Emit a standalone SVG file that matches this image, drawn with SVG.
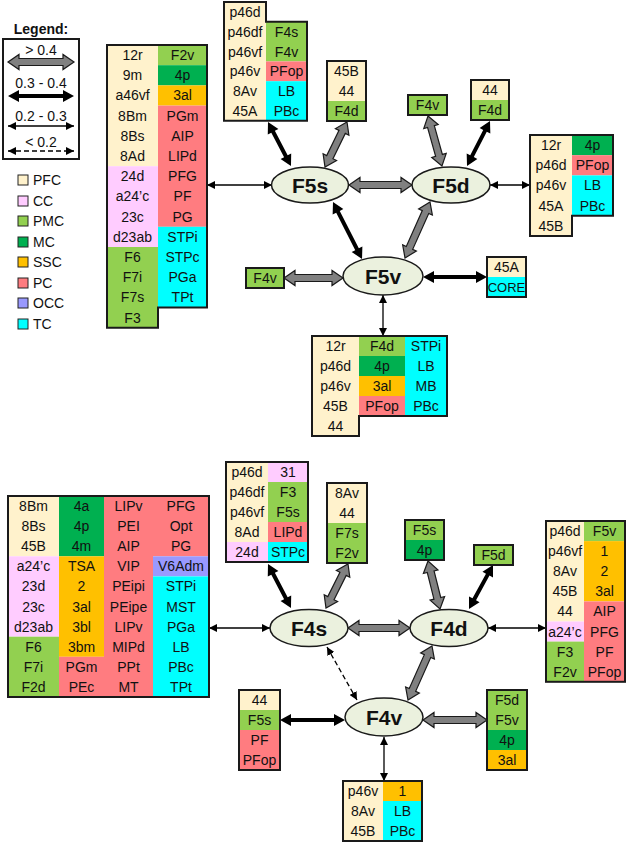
<svg xmlns="http://www.w3.org/2000/svg" width="630" height="843" viewBox="0 0 630 843">
<style>
.t{font-family:"Liberation Sans",Arial,sans-serif;font-size:14px;text-anchor:middle;fill:#111}
.lg{font-family:"Liberation Sans",Arial,sans-serif;font-size:14px;fill:#111}
.n{font-family:"Liberation Sans",Arial,sans-serif;font-size:21px;font-weight:bold;text-anchor:middle;fill:#111}
.ol{fill:none;stroke:#1a1a1a;stroke-width:2}
.pfc{fill:#FFF2CC}.cc{fill:#FFCCFF}.pmc{fill:#92D050}.mc{fill:#00B050}.ssc{fill:#FFC000}.pc{fill:#FF7C80}.occ{fill:#9999FF}.tc{fill:#00FFFF}
.el{fill:#EBF1DE;stroke:#1a1a1a;stroke-width:1.5}
.g{fill:#808080;stroke:#1a1a1a;stroke-width:1.2}
.b{fill:#000}
.thin{stroke:#000;stroke-width:1.3;fill:none;marker-start:url(#ah);marker-end:url(#ah)}
.dash{stroke-dasharray:5,3}
</style>
<defs>
<marker id="ah" markerUnits="userSpaceOnUse" markerWidth="9" markerHeight="8" refX="8" refY="4" orient="auto-start-reverse"><path d="M0,0 L8,4 L0,8 z" fill="#000"/></marker>
</defs>

<g id="legend">
<text x="41" y="34" class="lg" style="font-weight:bold;text-anchor:middle">Legend:</text>
<rect x="3" y="39" width="76" height="120" class="ol"/>
<text x="41" y="55" class="t">&gt; 0.4</text>
<polygon transform="translate(8,62)" class="g" points="0,0 11,-7.5 11,-3.5 55,-3.5 55,-7.5 66,0 55,7.5 55,3.5 11,3.5 11,7.5"/>
<text x="41" y="88" class="t">0.3 - 0.4</text>
<polygon transform="translate(8,96)" class="b" points="0,0 11,-6 11,-2 55,-2 55,-6 66,0 55,6 55,2 11,2 11,6"/>
<text x="41" y="121" class="t">0.2 - 0.3</text>
<line x1="8" y1="126" x2="74" y2="126" class="thin"/>
<text x="41" y="147" class="t">&lt; 0.2</text>
<line x1="8" y1="151" x2="74" y2="151" class="thin dash"/>
<rect x="18" y="175" width="10" height="10" class="pfc" stroke="#222"/><text x="33" y="185" class="lg">PFC</text>
<rect x="18" y="196" width="10" height="10" class="cc" stroke="#222"/><text x="33" y="206" class="lg">CC</text>
<rect x="18" y="216" width="10" height="10" class="pmc" stroke="#222"/><text x="33" y="226" class="lg">PMC</text>
<rect x="18" y="237" width="10" height="10" class="mc" stroke="#222"/><text x="33" y="247" class="lg">MC</text>
<rect x="18" y="257" width="10" height="10" class="ssc" stroke="#222"/><text x="33" y="267" class="lg">SSC</text>
<rect x="18" y="278" width="10" height="10" class="pc" stroke="#222"/><text x="33" y="288" class="lg">PC</text>
<rect x="18" y="298" width="10" height="10" class="occ" stroke="#222"/><text x="33" y="308" class="lg">OCC</text>
<rect x="18" y="319" width="10" height="10" class="tc" stroke="#222"/><text x="33" y="329" class="lg">TC</text>
</g>

<g id="connectors">
<line x1="207" y1="185" x2="272" y2="185" class="thin"/>
<line x1="490" y1="185" x2="530" y2="185" class="thin"/>
<line x1="383" y1="295" x2="383" y2="336" class="thin"/>
<polygon transform="translate(268,122) rotate(62.4)" class="b" points="0,0 11,-6 11,-2 38.6,-2 38.6,-6 49.6,0 38.6,6 38.6,2 11,2 11,6"/>
<polygon transform="translate(347,122) rotate(116.05)" class="g" points="0,0 11,-7.5 11,-3.5 39.1,-3.5 39.1,-7.5 50.1,0 39.1,7.5 39.1,3.5 11,3.5 11,7.5"/>
<polygon transform="translate(428,116) rotate(74.4)" class="g" points="0,0 11,-7.5 11,-3.5 40.9,-3.5 40.9,-7.5 51.9,0 40.9,7.5 40.9,3.5 11,3.5 11,7.5"/>
<polygon transform="translate(490,121) rotate(117.07)" class="b" points="0,0 11,-6 11,-2 39.5,-2 39.5,-6 50.5,0 39.5,6 39.5,2 11,2 11,6"/>
<polygon transform="translate(333,202) rotate(63.03)" class="b" points="0,0 11,-6 11,-2 53,-2 53,-6 64,0 53,6 53,2 11,2 11,6"/>
<polygon transform="translate(430,202) rotate(114.06)" class="g" points="0,0 11,-7.5 11,-3.5 50.3,-3.5 50.3,-7.5 61.3,0 50.3,7.5 50.3,3.5 11,3.5 11,7.5"/>
<polygon transform="translate(349,185)" class="g" points="0,0 11,-7.5 11,-3.5 52,-3.5 52,-7.5 63,0 52,7.5 52,3.5 11,3.5 11,7.5"/>
<polygon transform="translate(284,278)" class="g" points="0,0 11,-7.5 11,-3.5 48,-3.5 48,-7.5 59,0 48,7.5 48,3.5 11,3.5 11,7.5"/>
<polygon transform="translate(423,277)" class="b" points="0,0 11,-6 11,-2 53,-2 53,-6 64,0 53,6 53,2 11,2 11,6"/>

<line x1="209" y1="628" x2="270" y2="628" class="thin"/>
<line x1="488" y1="628" x2="546" y2="628" class="thin"/>
<line x1="384" y1="737" x2="384" y2="781" class="thin"/>
<line x1="327" y1="647" x2="357" y2="700" class="thin dash"/>
<polygon transform="translate(268,564) rotate(62.4)" class="b" points="0,0 11,-6 11,-2 38.6,-2 38.6,-6 49.6,0 38.6,6 38.6,2 11,2 11,6"/>
<polygon transform="translate(348,564) rotate(116.57)" class="g" points="0,0 11,-7.5 11,-3.5 38.2,-3.5 38.2,-7.5 49.2,0 38.2,7.5 38.2,3.5 11,3.5 11,7.5"/>
<polygon transform="translate(428,561) rotate(75.96)" class="g" points="0,0 11,-7.5 11,-3.5 38.5,-3.5 38.5,-7.5 49.5,0 38.5,7.5 38.5,3.5 11,3.5 11,7.5"/>
<polygon transform="translate(493,565) rotate(118.61)" class="b" points="0,0 11,-6 11,-2 39.1,-2 39.1,-6 50.1,0 39.1,6 39.1,2 11,2 11,6"/>
<polygon transform="translate(432,646) rotate(113.96)" class="g" points="0,0 11,-7.5 11,-3.5 48.1,-3.5 48.1,-7.5 59.1,0 48.1,7.5 48.1,3.5 11,3.5 11,7.5"/>
<polygon transform="translate(348,628)" class="g" points="0,0 11,-7.5 11,-3.5 51,-3.5 51,-7.5 62,0 51,7.5 51,3.5 11,3.5 11,7.5"/>
<polygon transform="translate(280,720)" class="b" points="0,0 11,-6 11,-2 54,-2 54,-6 65,0 54,6 54,2 11,2 11,6"/>
<polygon transform="translate(423,720)" class="g" points="0,0 11,-7.5 11,-3.5 53,-3.5 53,-7.5 64,0 53,7.5 53,3.5 11,3.5 11,7.5"/>
</g>

<g id="F5s"><ellipse cx="310" cy="185" rx="38.5" ry="18" class="el"/><text x="310" y="192.5" class="n">F5s</text></g>
<g id="F5d"><ellipse cx="451" cy="185" rx="39" ry="18" class="el"/><text x="451" y="192.5" class="n">F5d</text></g>
<g id="F5v"><ellipse cx="383" cy="276" rx="40" ry="19" class="el"/><text x="383" y="283.5" class="n">F5v</text></g>
<g id="F4s"><ellipse cx="309" cy="628" rx="39" ry="18.5" class="el"/><text x="309" y="635.5" class="n">F4s</text></g>
<g id="F4d"><ellipse cx="449" cy="628" rx="39" ry="18.5" class="el"/><text x="449" y="635.5" class="n">F4d</text></g>
<g id="F4v"><ellipse cx="384" cy="717" rx="39" ry="19" class="el"/><text x="384" y="724.5" class="n">F4v</text></g>

<g id="t-f5s-left">
<rect x="107" y="45" width="51" height="121.2" class="pfc"/>
<rect x="107" y="166.2" width="51" height="80.8" class="cc"/>
<rect x="107" y="247" width="51" height="80.8" class="pmc"/>
<rect x="158" y="45" width="49" height="20.2" class="pmc"/>
<rect x="158" y="65.2" width="49" height="20.2" class="mc"/>
<rect x="158" y="85.4" width="49" height="20.2" class="ssc"/>
<rect x="158" y="105.6" width="49" height="121.2" class="pc"/>
<rect x="158" y="226.8" width="49" height="80.8" class="tc"/>
<polygon points="107,45 207,45 207,307.6 158,307.6 158,327.8 107,327.8" class="ol"/>
<text x="132.5" y="60" class="t">12r</text><text x="132.5" y="80.2" class="t">9m</text><text x="132.5" y="100.4" class="t">a46vf</text><text x="132.5" y="120.6" class="t">8Bm</text><text x="132.5" y="140.8" class="t">8Bs</text><text x="132.5" y="161" class="t">8Ad</text><text x="132.5" y="181.2" class="t">24d</text><text x="132.5" y="201.4" class="t">a24’c</text><text x="132.5" y="221.6" class="t">23c</text><text x="132.5" y="241.8" class="t">d23ab</text><text x="132.5" y="262" class="t">F6</text><text x="132.5" y="282.2" class="t">F7i</text><text x="132.5" y="302.4" class="t">F7s</text><text x="132.5" y="322.6" class="t">F3</text>
<text x="182.5" y="60" class="t">F2v</text><text x="182.5" y="80.2" class="t">4p</text><text x="182.5" y="100.4" class="t">3al</text><text x="182.5" y="120.6" class="t">PGm</text><text x="182.5" y="140.8" class="t">AIP</text><text x="182.5" y="161" class="t">LIPd</text><text x="182.5" y="181.2" class="t">PFG</text><text x="182.5" y="201.4" class="t">PF</text><text x="182.5" y="221.6" class="t">PG</text><text x="182.5" y="241.8" class="t">STPi</text><text x="182.5" y="262" class="t">STPc</text><text x="182.5" y="282.2" class="t">PGa</text><text x="182.5" y="302.4" class="t">TPt</text>
</g>

<g id="t-f5s-top1">
<rect x="224" y="2" width="42" height="118.8" class="pfc"/>
<rect x="266" y="21.8" width="41" height="39.6" class="pmc"/>
<rect x="266" y="61.4" width="41" height="19.8" class="pc"/>
<rect x="266" y="81.2" width="41" height="39.6" class="tc"/>
<polygon points="224,2 266,2 266,21.8 307,21.8 307,120.8 224,120.8" class="ol"/>
<text x="245" y="17" class="t">p46d</text><text x="245" y="36.8" class="t">p46df</text><text x="245" y="56.6" class="t">p46vf</text><text x="245" y="76.4" class="t">p46v</text><text x="245" y="96.2" class="t">8Av</text><text x="245" y="116" class="t">45A</text>
<text x="286.5" y="36.8" class="t">F4s</text><text x="286.5" y="56.6" class="t">F4v</text><text x="286.5" y="76.4" class="t">PFop</text><text x="286.5" y="96.2" class="t">LB</text><text x="286.5" y="116" class="t">PBc</text>
</g>

<g id="t-f5s-top2">
<rect x="327" y="61" width="39" height="40" class="pfc"/>
<rect x="327" y="101" width="39" height="20" class="pmc"/>
<rect x="327" y="61" width="39" height="60" class="ol"/>
<text x="346.5" y="76" class="t">45B</text><text x="346.5" y="96" class="t">44</text><text x="346.5" y="116" class="t">F4d</text>
</g>

<g id="t-f5d-top1">
<rect x="408" y="95" width="39" height="20" class="pmc"/>
<rect x="408" y="95" width="39" height="20" class="ol"/>
<text x="427.5" y="110" class="t">F4v</text>
</g>

<g id="t-f5d-top2">
<rect x="471" y="80" width="38" height="20" class="pfc"/>
<rect x="471" y="100" width="38" height="20" class="pmc"/>
<rect x="471" y="80" width="38" height="40" class="ol"/>
<text x="490" y="95" class="t">44</text><text x="490" y="115" class="t">F4d</text>
</g>

<g id="t-f5d-right">
<rect x="530" y="135" width="42" height="101" class="pfc"/>
<rect x="572" y="135" width="41" height="20.2" class="mc"/>
<rect x="572" y="155.2" width="41" height="20.2" class="pc"/>
<rect x="572" y="175.4" width="41" height="40.4" class="tc"/>
<polygon points="530,135 613,135 613,215.8 572,215.8 572,236 530,236" class="ol"/>
<text x="551" y="150" class="t">12r</text><text x="551" y="170.2" class="t">p46d</text><text x="551" y="190.4" class="t">p46v</text><text x="551" y="210.6" class="t">45A</text><text x="551" y="230.8" class="t">45B</text>
<text x="592.5" y="150" class="t">4p</text><text x="592.5" y="170.2" class="t">PFop</text><text x="592.5" y="190.4" class="t">LB</text><text x="592.5" y="210.6" class="t">PBc</text>
</g>

<g id="t-f5v-left">
<rect x="246" y="268" width="38" height="20" class="pmc"/>
<rect x="246" y="268" width="38" height="20" class="ol"/>
<text x="265" y="283" class="t">F4v</text>
</g>

<g id="t-f5v-right">
<rect x="487" y="257" width="39" height="20" class="pfc"/>
<rect x="487" y="277" width="39" height="20" class="tc"/>
<rect x="487" y="257" width="39" height="40" class="ol"/>
<text x="506.5" y="272" class="t">45A</text><text x="506.5" y="292" class="t" style="font-size:13px">CORE</text>
</g>

<g id="t-f5v-bottom">
<rect x="312" y="336" width="47" height="100" class="pfc"/>
<rect x="359" y="336" width="46" height="20" class="pmc"/>
<rect x="359" y="356" width="46" height="20" class="mc"/>
<rect x="359" y="376" width="46" height="20" class="ssc"/>
<rect x="359" y="396" width="46" height="20" class="pc"/>
<rect x="405" y="336" width="42" height="80" class="tc"/>
<polygon points="312,336 447,336 447,416 359,416 359,436 312,436" class="ol"/>
<text x="335.5" y="351" class="t">12r</text><text x="335.5" y="371" class="t">p46d</text><text x="335.5" y="391" class="t">p46v</text><text x="335.5" y="411" class="t">45B</text><text x="335.5" y="431" class="t">44</text>
<text x="382" y="351" class="t">F4d</text><text x="382" y="371" class="t">4p</text><text x="382" y="391" class="t">3al</text><text x="382" y="411" class="t">PFop</text>
<text x="426" y="351" class="t">STPi</text><text x="426" y="371" class="t">LB</text><text x="426" y="391" class="t">MB</text><text x="426" y="411" class="t">PBc</text>
</g>

<g id="t-f4s-left">
<rect x="8" y="496" width="51" height="60.3" class="pfc"/>
<rect x="8" y="556.3" width="51" height="80.4" class="cc"/>
<rect x="8" y="636.7" width="51" height="60.3" class="pmc"/>
<rect x="59" y="496" width="45" height="60.3" class="mc"/>
<rect x="59" y="556.3" width="45" height="100.5" class="ssc"/>
<rect x="59" y="656.8" width="45" height="40.2" class="pc"/>
<rect x="104" y="496" width="49" height="201" class="pc"/>
<rect x="153" y="496" width="56" height="60.3" class="pc"/>
<rect x="153" y="556.3" width="56" height="20.1" class="occ"/>
<rect x="153" y="576.4" width="56" height="120.6" class="tc"/>
<rect x="8" y="496" width="201" height="201" class="ol"/>
<text x="33.5" y="511" class="t">8Bm</text><text x="33.5" y="531.1" class="t">8Bs</text><text x="33.5" y="551.2" class="t">45B</text><text x="33.5" y="571.3" class="t">a24’c</text><text x="33.5" y="591.4" class="t">23d</text><text x="33.5" y="611.5" class="t">23c</text><text x="33.5" y="631.6" class="t">d23ab</text><text x="33.5" y="651.7" class="t">F6</text><text x="33.5" y="671.8" class="t">F7i</text><text x="33.5" y="691.9" class="t">F2d</text>
<text x="81.5" y="511" class="t">4a</text><text x="81.5" y="531.1" class="t">4p</text><text x="81.5" y="551.2" class="t">4m</text><text x="81.5" y="571.3" class="t">TSA</text><text x="81.5" y="591.4" class="t">2</text><text x="81.5" y="611.5" class="t">3al</text><text x="81.5" y="631.6" class="t">3bl</text><text x="81.5" y="651.7" class="t">3bm</text><text x="81.5" y="671.8" class="t">PGm</text><text x="81.5" y="691.9" class="t">PEc</text>
<text x="128.5" y="511" class="t">LIPv</text><text x="128.5" y="531.1" class="t">PEI</text><text x="128.5" y="551.2" class="t">AIP</text><text x="128.5" y="571.3" class="t">VIP</text><text x="128.5" y="591.4" class="t">PEipi</text><text x="128.5" y="611.5" class="t">PEipe</text><text x="128.5" y="631.6" class="t">LIPv</text><text x="128.5" y="651.7" class="t">MIPd</text><text x="128.5" y="671.8" class="t">PPt</text><text x="128.5" y="691.9" class="t">MT</text>
<text x="181" y="511" class="t">PFG</text><text x="181" y="531.1" class="t">Opt</text><text x="181" y="551.2" class="t">PG</text><text x="181" y="571.3" class="t">V6Adm</text><text x="181" y="591.4" class="t">STPi</text><text x="181" y="611.5" class="t">MST</text><text x="181" y="631.6" class="t">PGa</text><text x="181" y="651.7" class="t">LB</text><text x="181" y="671.8" class="t">PBc</text><text x="181" y="691.9" class="t">TPt</text>
</g>

<g id="t-f4s-top1">
<rect x="226" y="462" width="42" height="80" class="pfc"/>
<rect x="226" y="542" width="42" height="20" class="cc"/>
<rect x="268" y="462" width="40" height="20" class="cc"/>
<rect x="268" y="482" width="40" height="40" class="pmc"/>
<rect x="268" y="522" width="40" height="20" class="pc"/>
<rect x="268" y="542" width="40" height="20" class="tc"/>
<rect x="226" y="462" width="82" height="100" class="ol"/>
<text x="247" y="477" class="t">p46d</text><text x="247" y="497" class="t">p46df</text><text x="247" y="517" class="t">p46vf</text><text x="247" y="537" class="t">8Ad</text><text x="247" y="557" class="t">24d</text>
<text x="288" y="477" class="t">31</text><text x="288" y="497" class="t">F3</text><text x="288" y="517" class="t">F5s</text><text x="288" y="537" class="t">LIPd</text><text x="288" y="557" class="t">STPc</text>
</g>

<g id="t-f4s-top2">
<rect x="327" y="483" width="40" height="40" class="pfc"/>
<rect x="327" y="523" width="40" height="40" class="pmc"/>
<rect x="327" y="483" width="40" height="80" class="ol"/>
<text x="347" y="498" class="t">8Av</text><text x="347" y="518" class="t">44</text><text x="347" y="538" class="t">F7s</text><text x="347" y="558" class="t">F2v</text>
</g>

<g id="t-f4d-top1">
<rect x="405" y="520" width="39" height="20" class="pmc"/>
<rect x="405" y="540" width="39" height="20" class="mc"/>
<rect x="405" y="520" width="39" height="40" class="ol"/>
<text x="424.5" y="535" class="t">F5s</text><text x="424.5" y="555" class="t">4p</text>
</g>

<g id="t-f4d-top2">
<rect x="474" y="545" width="39" height="20" class="pmc"/>
<rect x="474" y="545" width="39" height="20" class="ol"/>
<text x="493.5" y="560" class="t">F5d</text>
</g>

<g id="t-f4d-right">
<rect x="546" y="521" width="38" height="100.5" class="pfc"/>
<rect x="546" y="621.5" width="38" height="20.1" class="cc"/>
<rect x="546" y="641.6" width="38" height="40.2" class="pmc"/>
<rect x="584" y="521" width="41" height="20.1" class="pmc"/>
<rect x="584" y="541.1" width="41" height="60.3" class="ssc"/>
<rect x="584" y="601.4" width="41" height="80.4" class="pc"/>
<rect x="546" y="521" width="79" height="160.8" class="ol"/>
<text x="565" y="536" class="t">p46d</text><text x="565" y="556.1" class="t">p46vf</text><text x="565" y="576.2" class="t">8Av</text><text x="565" y="596.3" class="t">45B</text><text x="565" y="616.4" class="t">44</text><text x="565" y="636.5" class="t">a24’c</text><text x="565" y="656.6" class="t">F3</text><text x="565" y="676.7" class="t">F2v</text>
<text x="604.5" y="536" class="t">F5v</text><text x="604.5" y="556.1" class="t">1</text><text x="604.5" y="576.2" class="t">2</text><text x="604.5" y="596.3" class="t">3al</text><text x="604.5" y="616.4" class="t">AIP</text><text x="604.5" y="636.5" class="t">PFG</text><text x="604.5" y="656.6" class="t">PF</text><text x="604.5" y="676.7" class="t">PFop</text>
</g>

<g id="t-f4v-left">
<rect x="239" y="690" width="41" height="20" class="pfc"/>
<rect x="239" y="710" width="41" height="20" class="pmc"/>
<rect x="239" y="730" width="41" height="40" class="pc"/>
<rect x="239" y="690" width="41" height="80" class="ol"/>
<text x="259.5" y="705" class="t">44</text><text x="259.5" y="725" class="t">F5s</text><text x="259.5" y="745" class="t">PF</text><text x="259.5" y="765" class="t">PFop</text>
</g>

<g id="t-f4v-right">
<rect x="487" y="690" width="40" height="40" class="pmc"/>
<rect x="487" y="730" width="40" height="20" class="mc"/>
<rect x="487" y="750" width="40" height="20" class="ssc"/>
<rect x="487" y="690" width="40" height="80" class="ol"/>
<text x="507" y="705" class="t">F5d</text><text x="507" y="725" class="t">F5v</text><text x="507" y="745" class="t">4p</text><text x="507" y="765" class="t">3al</text>
</g>

<g id="t-f4v-bottom">
<rect x="343" y="781" width="40" height="60" class="pfc"/>
<rect x="383" y="781" width="39" height="20" class="ssc"/>
<rect x="383" y="801" width="39" height="40" class="tc"/>
<rect x="343" y="781" width="79" height="60" class="ol"/>
<text x="363" y="796" class="t">p46v</text><text x="363" y="816" class="t">8Av</text><text x="363" y="836" class="t">45B</text>
<text x="402.5" y="796" class="t">1</text><text x="402.5" y="816" class="t">LB</text><text x="402.5" y="836" class="t">PBc</text>
</g>
</svg>
